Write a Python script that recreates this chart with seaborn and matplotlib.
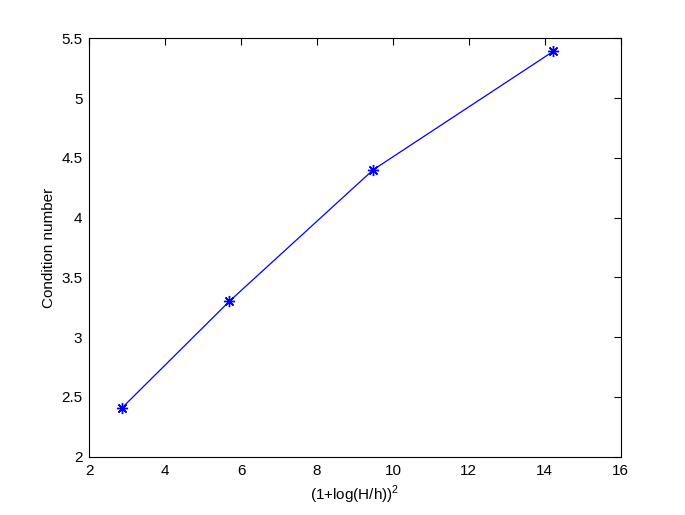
import numpy as np
import pandas as pd
import seaborn as sns
import matplotlib.pyplot as plt

# (1+log(H/h))^2 for H/h = 2, 4, 8, 16
x_vals = [2.866, 5.69, 9.48, 14.22]
cond_nums = [2.41, 3.30, 4.40, 5.39]

df = pd.DataFrame({"x": x_vals, "cond": cond_nums})

sns.set_style("white")
plt.rcParams["font.family"] = ["Liberation Sans", "DejaVu Sans"]
plt.rcParams["mathtext.fontset"] = "custom"
plt.rcParams["mathtext.rm"] = "Liberation Sans"
plt.rcParams["text.color"] = "black"
plt.rcParams["axes.labelcolor"] = "black"

fig = plt.figure(figsize=(6.85, 5.15), dpi=100)
ax = fig.add_axes([0.1304, 0.1132, 0.7756, 0.8124])

# matlab-style asterisk marker (8 spokes)
sns.lineplot(data=df, x="x", y="cond", ax=ax, color="blue", marker=(8, 2, 0),
             markersize=8, markeredgecolor="blue", markeredgewidth=1.0,
             linewidth=0.9)

ax.set_xlim(2, 16)
ax.set_ylim(2, 5.5)
ax.set_xticks(np.arange(2, 17, 2))
ax.set_yticks(np.arange(2, 5.51, 0.5))
ax.set_yticklabels(["2", "2.5", "3", "3.5", "4", "4.5", "5", "5.5"])
ax.tick_params(direction="in", top=True, right=True, length=5, width=0.8,
               labelsize=11, colors="black", pad=5)
for s in ax.spines.values():
    s.set_color("black")
    s.set_linewidth(0.8)

ax.set_xlabel(r"(1+log(H/h))$^2$", fontsize=11)
ax.set_ylabel("Condition number", fontsize=11)

fig.savefig("out.png", dpi=100)
